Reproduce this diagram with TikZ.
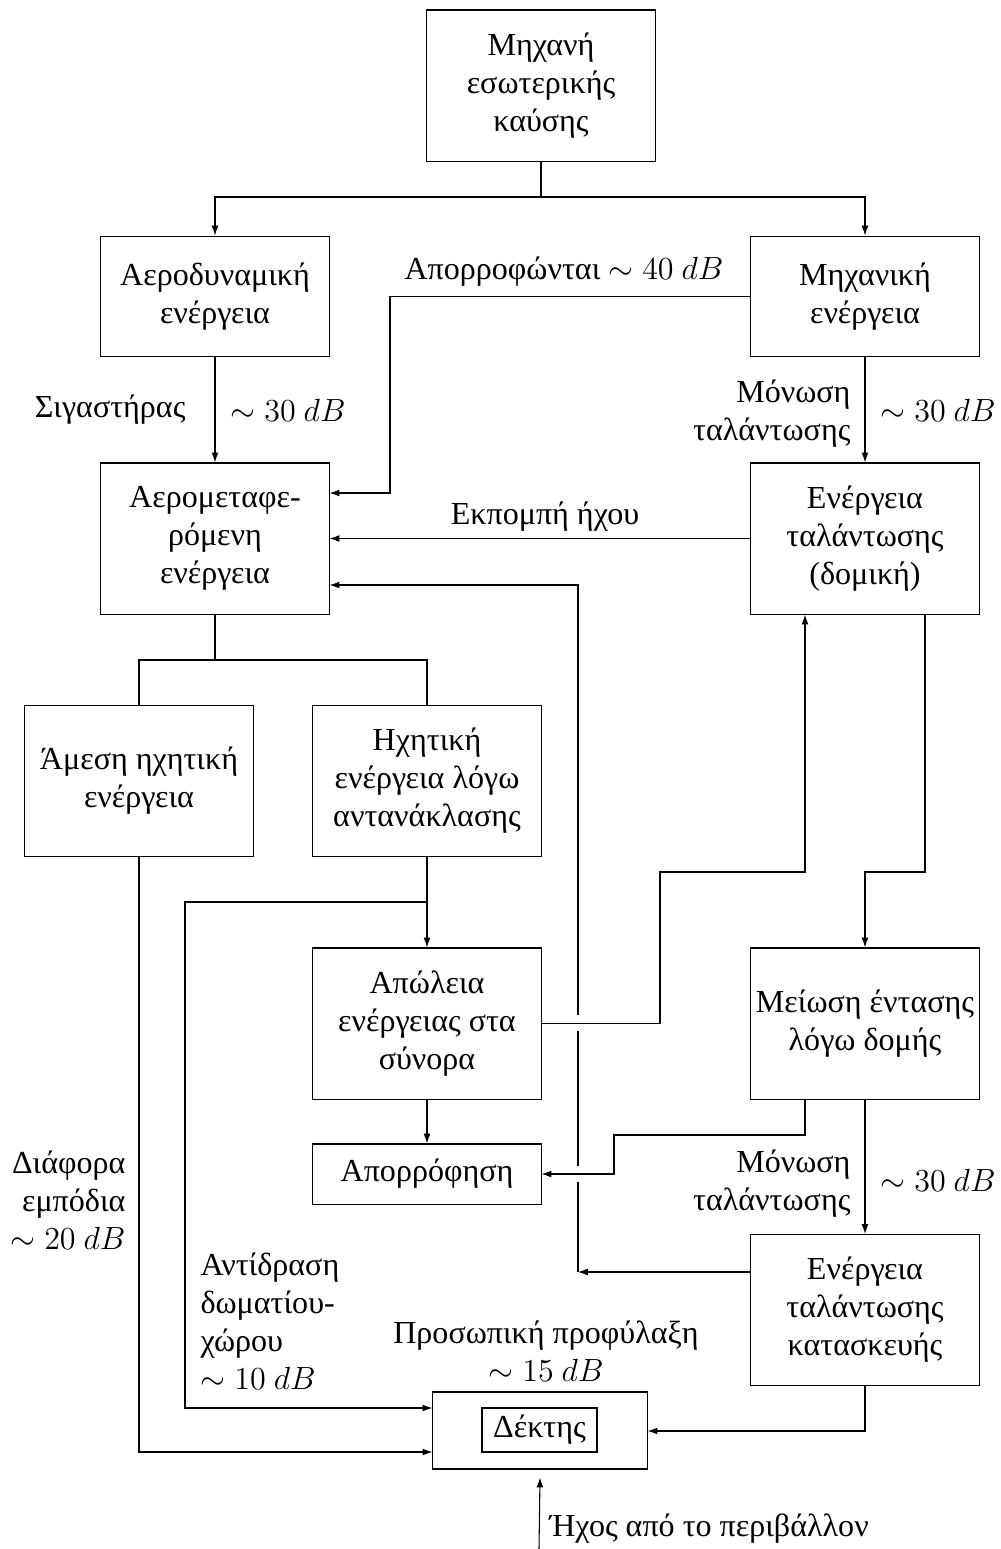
\documentclass[tikz,border=0pt]{standalone}
\usepackage{fontspec}
\setmainfont{Liberation Serif}
\usetikzlibrary{arrows.meta,calc}
\begin{document}
\begin{tikzpicture}[x=0.013158cm,y=-0.013158cm,
  font=\fontsize{12pt}{14.2pt}\selectfont,
  box/.style={draw, align=center, minimum width=3cm, minimum height=1.987cm, inner sep=2pt},
  boxs/.style={box, minimum height=1.59cm},
  arr/.style={-{Latex[length=3.7pt,width=2.6pt]}},
  lbl/.style={inner sep=0pt, align=center}]
\useasboundingbox (0,0) rectangle (1001,1549);
% boxes
\node[box] (top) at (541,85.5) {Μηχανή\\εσωτερικής\\καύσης};
\node[boxs] (aero) at (215,296.5) {Αεροδυναμική\\ενέργεια};
\node[boxs] (mech) at (865,296.5) {Μηχανική\\ενέργεια};
\node[box] (aerom) at (215,538.5) {Αερομεταφε-\\ρόμενη\\ενέργεια};
\node[box] (domiki) at (865,538.5) {Ενέργεια\\ταλάντωσης\\(δομική)};
\node[box] (amesi) at (139,781) {Άμεση ηχητική\\ενέργεια};
\node[box] (ichit) at (427,781) {Ηχητική\\ενέργεια λόγω\\αντανάκλασης};
\node[box] (apol) at (427,1023.5) {Απώλεια\\ενέργειας στα\\σύνορα};
\node[box] (meiw) at (865,1023.5) {Μείωση έντασης\\λόγω δομής};
\node[box, minimum height=0.79cm] (aporr) at (427,1174) {Απορρόφηση};
\node[box] (katask) at (865,1310) {Ενέργεια\\ταλάντωσης\\κατασκευής};
\node[draw, minimum width=2.816cm, minimum height=1.013cm] (dekt) at (540,1430.5) {};
\node[draw, minimum width=1.513cm, minimum height=0.579cm, inner sep=1pt] (dektin) at (539.5,1430) {Δέκτης};
% connectors
\draw (top.south) -- (541,197) coordinate (s1);
\draw[arr] (s1) -| (aero.north);
\draw[arr] (s1) -| (mech.north);
\draw[arr] (mech.west) -| (390,493) -- (aerom.east |- 0,493);
\draw[arr] (aero.south) -- (aerom.north);
\draw[arr] (mech.south) -- (domiki.north);
\draw[arr] (domiki.west) -- (aerom.east);
\draw (aerom.south) -- (215,660) coordinate (s2);
\draw (s2) -| (amesi.north);
\draw (s2) -| (ichit.north);
\draw[arr] (amesi.south) |- (dekt.west |- 0,1452);
\draw[arr] (ichit.south) -- (apol.north);
\draw[arr] (ichit.south |- 0,902) -| (185,1100) |- (dekt.west |- 0,1408);
\draw[arr] (apol.east) -| (660,872) -| (domiki.south -| 805,0);
\draw[arr] (domiki.south -| 925,0) |- (865,872) -- (meiw.north);
\draw[arr] (apol.south) -- (aporr.north);
\draw[arr] (meiw.south -| 805,0) |- (614,1135) |- (aporr.east);
\draw[arr] (meiw.south) -- (katask.north);
\coordinate (j0) at (578,1272);
\draw[arr] (katask.west |- j0) -- (j0);
\draw[arr] (j0) -- (578,1182) (578,1166) -- (578,1031) (578,1015) -- (578,585) -- (aerom.east |- 0,585);
\draw[arr] (katask.south) |- (dekt.east |- 0,1431);
\coordinate (env) at (539,1549);
\draw[arr] (env) -- ($(dekt.south)+(0,8)$);
% labels
\node[lbl] (l1) at (564,272) {Απορροφώνται $\sim 40~dB$};
\node[lbl, anchor=east] (l2) at (186,410) {Σιγαστήρας};
\node[lbl] (l3) at (288,410) {$\sim 30~dB$};
\node[lbl, anchor=east, align=right] (l4) at (851,414) {Μόνωση\\ταλάντωσης};
\node[lbl] (l5) at (938,410) {$\sim 30~dB$};
\node[lbl] (l6) at (545,517) {Εκπομπή ήχου};
\node[lbl, anchor=east, align=right] (l7) at (851,1184) {Μόνωση\\ταλάντωσης};
\node[lbl] (l8) at (938,1180) {$\sim 30~dB$};
\node[lbl, anchor=east, align=right] (l9) at (126,1200) {Διάφορα\\εμπόδια\\$\sim 20~dB$};
\node[lbl, anchor=west, align=left] (l10) at (200,1321) {Αντίδραση\\δωματίου-\\χώρου\\$\sim 10~dB$};
\node[lbl] (l11) at (546,1351) {Προσωπική προφύλαξη\\$\sim 15~dB$};
\node[lbl, anchor=west] (l12) at (549,1529) {Ήχος από το περιβάλλον};
\end{tikzpicture}
\end{document}
